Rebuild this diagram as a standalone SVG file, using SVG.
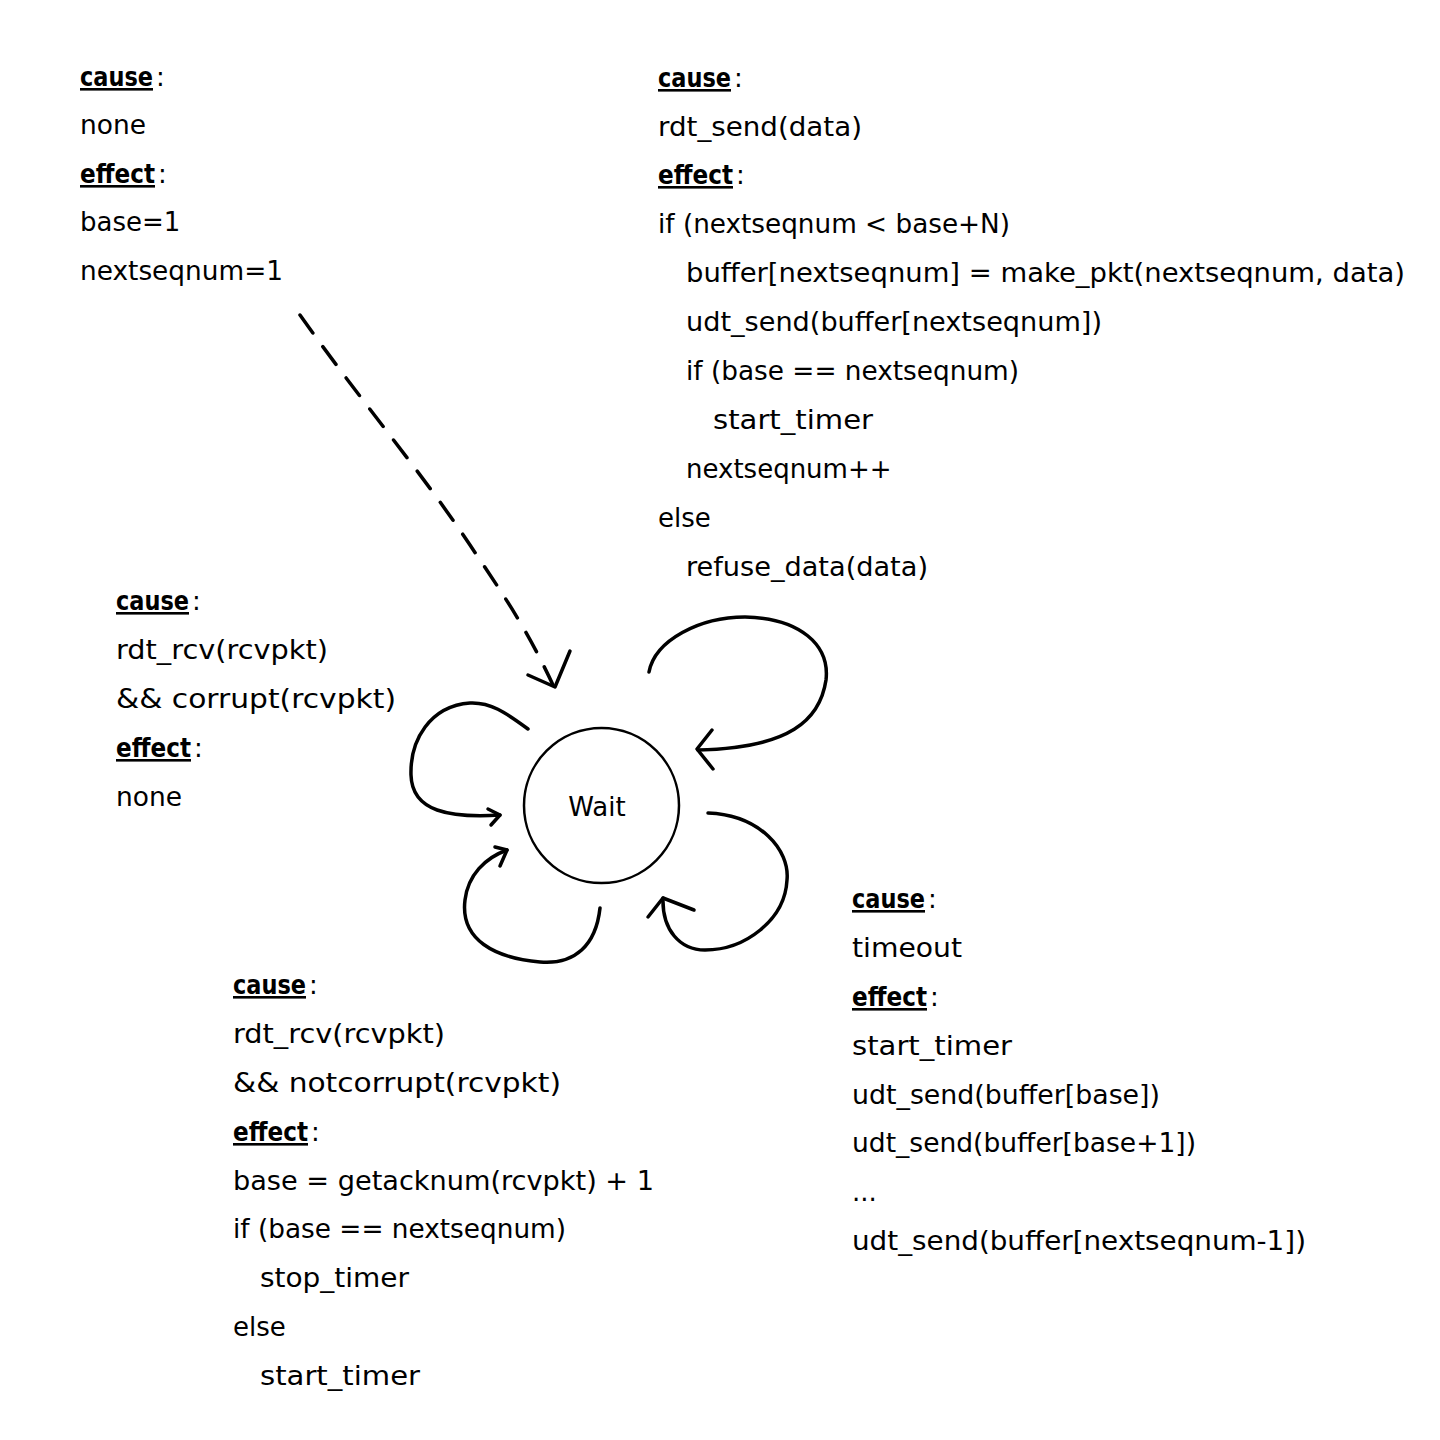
<svg xmlns="http://www.w3.org/2000/svg" width="1440" height="1440" viewBox="0 0 1440 1440">
<defs>
<style>
text{font-family:"DejaVu Sans",sans-serif;font-size:26px;fill:#000}
.h{font-weight:bold;text-decoration:underline}
.c{fill:none;stroke:#000;stroke-width:3.5;stroke-linecap:round;stroke-linejoin:round}
.d{stroke-dasharray:22 17}
.st{fill:#fff;stroke:#000;stroke-width:2.5}
</style>
</defs>
<rect width="1440" height="1440" fill="#fff"/>
<g id="connectors">
<path class="c d" d="M300,315 C360,400 420,470 470,545 C500,590 525,625 553,685"/>
<path class="c" d="M528,675 L555,687 L570,651"/>
<path class="c" d="M649,672 C655,640 700,617 745,617 C800,618 830,645 826,680 C820,720 790,748 698,750"/>
<path class="c" d="M712,730 L697,749 L713,769"/>
<path class="c" d="M528,729 C505,712 490,702 470,703 C430,706 410,740 411,775 C412,812 450,818 500,815"/>
<path class="c" d="M488,809 L500,815 L491,825"/>
<path class="c" d="M600,908 C596,945 575,965 540,962 C495,958 460,940 465,900 C468,875 485,858 507,850"/>
<path class="c" d="M495,847 L507,850 L500,866"/>
<path class="c" d="M708,813 C760,815 790,850 787,880 C785,920 745,950 705,950 C680,950 662,930 663,898"/>
<path class="c" d="M648,917 L663,898 L694,910"/>
</g>
<g id="node-wait">
<circle class="st" cx="601.5" cy="805.5" r="77.5"/>
<text x="597" y="816" text-anchor="middle" font-size="27">Wait</text>
</g>
<g id="label-init" transform="translate(0,2)">
<text x="80" y="84"><tspan class="h" textLength="73" lengthAdjust="spacingAndGlyphs">cause</tspan><tspan dx="3">:</tspan></text>
<text x="80" y="132" textLength="66" lengthAdjust="spacingAndGlyphs">none</text>
<text x="80" y="181"><tspan class="h" textLength="75" lengthAdjust="spacingAndGlyphs">effect</tspan><tspan dx="3">:</tspan></text>
<text x="80" y="229">base=1</text>
<text x="80" y="278" textLength="203" lengthAdjust="spacingAndGlyphs">nextseqnum=1</text>
</g>
<g id="label-send" transform="translate(0,2)">
<text x="658" y="85"><tspan class="h" textLength="73" lengthAdjust="spacingAndGlyphs">cause</tspan><tspan dx="3">:</tspan></text>
<text x="658" y="134" textLength="204" lengthAdjust="spacingAndGlyphs">rdt_send(data)</text>
<text x="658" y="182"><tspan class="h" textLength="75" lengthAdjust="spacingAndGlyphs">effect</tspan><tspan dx="3">:</tspan></text>
<text x="658" y="231" textLength="352" lengthAdjust="spacingAndGlyphs">if (nextseqnum &lt; base+N)</text>
<text x="686" y="280" textLength="719" lengthAdjust="spacingAndGlyphs">buffer[nextseqnum] = make_pkt(nextseqnum, data)</text>
<text x="686" y="329" textLength="416" lengthAdjust="spacingAndGlyphs">udt_send(buffer[nextseqnum])</text>
<text x="686" y="378" textLength="333" lengthAdjust="spacingAndGlyphs">if (base == nextseqnum)</text>
<text x="713" y="427" textLength="160" lengthAdjust="spacingAndGlyphs">start_timer</text>
<text x="686" y="476">nextseqnum++</text>
<text x="658" y="525">else</text>
<text x="686" y="574" textLength="242" lengthAdjust="spacingAndGlyphs">refuse_data(data)</text>
</g>
<g id="label-corrupt" transform="translate(0,2)">
<text x="116" y="608"><tspan class="h" textLength="73" lengthAdjust="spacingAndGlyphs">cause</tspan><tspan dx="3">:</tspan></text>
<text x="116" y="657" textLength="212" lengthAdjust="spacingAndGlyphs">rdt_rcv(rcvpkt)</text>
<text x="116" y="706" textLength="280" lengthAdjust="spacingAndGlyphs">&amp;&amp; corrupt(rcvpkt)</text>
<text x="116" y="755"><tspan class="h" textLength="75" lengthAdjust="spacingAndGlyphs">effect</tspan><tspan dx="3">:</tspan></text>
<text x="116" y="804" textLength="66" lengthAdjust="spacingAndGlyphs">none</text>
</g>
<g id="label-ack" transform="translate(0,2)">
<text x="233" y="992"><tspan class="h" textLength="73" lengthAdjust="spacingAndGlyphs">cause</tspan><tspan dx="3">:</tspan></text>
<text x="233" y="1041" textLength="212" lengthAdjust="spacingAndGlyphs">rdt_rcv(rcvpkt)</text>
<text x="233" y="1090" textLength="328" lengthAdjust="spacingAndGlyphs">&amp;&amp; notcorrupt(rcvpkt)</text>
<text x="233" y="1139"><tspan class="h" textLength="75" lengthAdjust="spacingAndGlyphs">effect</tspan><tspan dx="3">:</tspan></text>
<text x="233" y="1188" textLength="421" lengthAdjust="spacingAndGlyphs">base = getacknum(rcvpkt) + 1</text>
<text x="233" y="1236" textLength="333" lengthAdjust="spacingAndGlyphs">if (base == nextseqnum)</text>
<text x="260" y="1285" textLength="149" lengthAdjust="spacingAndGlyphs">stop_timer</text>
<text x="233" y="1334">else</text>
<text x="260" y="1383" textLength="160" lengthAdjust="spacingAndGlyphs">start_timer</text>
</g>
<g id="label-timeout" transform="translate(0,2)">
<text x="852" y="906"><tspan class="h" textLength="73" lengthAdjust="spacingAndGlyphs">cause</tspan><tspan dx="3">:</tspan></text>
<text x="852" y="955" textLength="110" lengthAdjust="spacingAndGlyphs">timeout</text>
<text x="852" y="1004"><tspan class="h" textLength="75" lengthAdjust="spacingAndGlyphs">effect</tspan><tspan dx="3">:</tspan></text>
<text x="852" y="1053" textLength="160" lengthAdjust="spacingAndGlyphs">start_timer</text>
<text x="852" y="1102" textLength="308" lengthAdjust="spacingAndGlyphs">udt_send(buffer[base])</text>
<text x="852" y="1150" textLength="344" lengthAdjust="spacingAndGlyphs">udt_send(buffer[base+1])</text>
<text x="852" y="1199">...</text>
<text x="852" y="1248" textLength="454" lengthAdjust="spacingAndGlyphs">udt_send(buffer[nextseqnum-1])</text>
</g>
</svg>
